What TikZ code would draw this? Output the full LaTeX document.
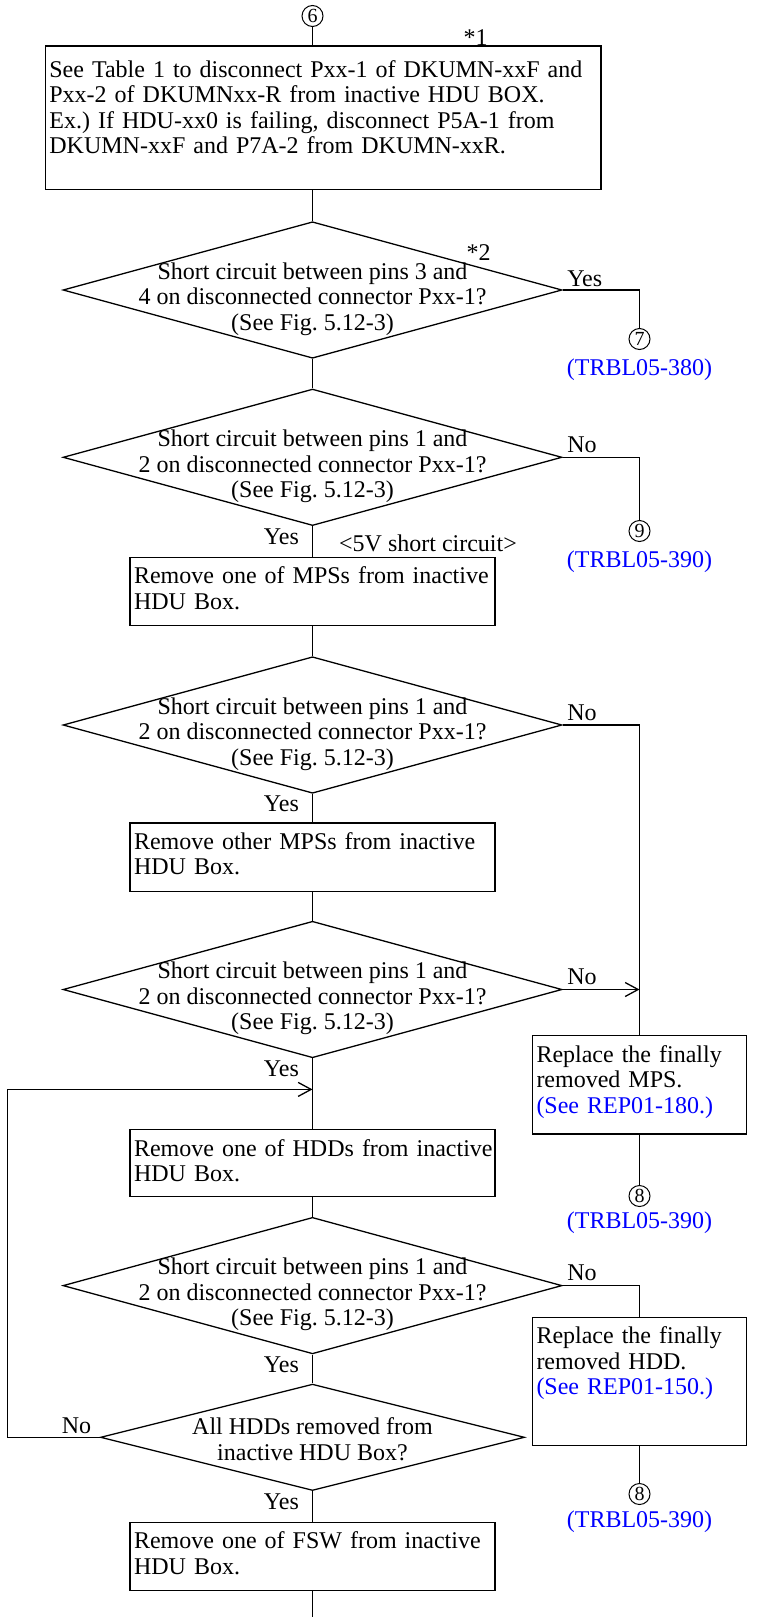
\documentclass[tikz,border=0pt]{standalone}
\usepackage{fontspec}
\setmainfont{Liberation Serif}
\usetikzlibrary{shapes.geometric,arrows.meta}
\frenchspacing
% box text: one line per row, never wrapped
\newcommand{\boxlines}[1]{\begin{tabular}[t]{@{}l@{}}#1\end{tabular}}

\begin{document}
\begin{tikzpicture}[x=1pt,y=-1pt,line width=1.3pt,
  font=\fontsize{24}{25.5}\selectfont,
  >={Straight Barb[length=13pt,width=14pt]},
  act/.style={draw,anchor=north,align=left,inner xsep=4pt,inner ysep=4pt,text height=22.5pt},
  decision/.style={draw,diamond,inner sep=0pt,minimum width=499pt,minimum height=136.5pt},
  qtext/.style={align=center,inner sep=0pt},
  offpage/.style={draw,circle,line width=1pt,minimum size=21pt,inner sep=0pt,font=\fontsize{20}{20}\selectfont},
  lbl/.style={inner sep=0pt},
  refnote/.style={blue,inner sep=0pt,anchor=base}]
\useasboundingbox (0,0) rectangle (766,1617);

% main column
\node[offpage] (c6) at (312.5,16) {6};
\node[act,text width=547.7pt,text height=27pt,text depth=108.3pt] (b1) at (323.25,45.4)
  {\boxlines{See Table 1 to disconnect Pxx-1 of DKUMN-xxF and\\
   Pxx-2 of DKUMNxx-R from inactive HDU BOX.\\
   Ex.) If HDU-xx0 is failing, disconnect P5A-1 from\\
   DKUMN-xxF and P7A-2 from DKUMN-xxR.}};
\node[decision] (d1) at (312.5,290) {};
\node[qtext] (t1) at ([yshift=-9pt]d1.center)
  {Short circuit between pins 3 and\\4 on disconnected connector Pxx-1?\\(See Fig. 5.12-3)};
\node[decision] (d2) at (312.5,457.3) {};
\node[qtext] (t2) at ([yshift=-9pt]d2.center)
  {Short circuit between pins 1 and\\2 on disconnected connector Pxx-1?\\(See Fig. 5.12-3)};
\node[act,text width=356.9pt,text depth=37.5pt] (b2) at (312.5,556.5)
  {\boxlines{Remove one of MPSs from inactive\\HDU Box.}};
\node[decision] (d3) at (312.5,725) {};
\node[qtext] (t3) at ([yshift=-9pt]d3.center)
  {Short circuit between pins 1 and\\2 on disconnected connector Pxx-1?\\(See Fig. 5.12-3)};
\node[act,text width=356.9pt,text depth=38.2pt] (b3) at (312.5,822.3)
  {\boxlines{Remove other MPSs from inactive\\HDU Box.}};
\node[decision] (d4) at (312.5,989.5) {};
\node[qtext] (t4) at ([yshift=-9pt]d4.center)
  {Short circuit between pins 1 and\\2 on disconnected connector Pxx-1?\\(See Fig. 5.12-3)};
\node[act,text width=356.9pt,text depth=36.5pt] (b4) at (312.5,1129)
  {\boxlines{Remove one of HDDs from inactive\\HDU Box.}};
\node[decision] (d5) at (312.5,1285.6) {};
\node[qtext] (t5) at ([yshift=-9pt]d5.center)
  {Short circuit between pins 1 and\\2 on disconnected connector Pxx-1?\\(See Fig. 5.12-3)};
\node[decision,minimum width=424pt,minimum height=106.4pt] (d6) at (312.5,1437.3) {};
\node[qtext] (t6) at ([yshift=-2pt]d6.center)
  {All HDDs removed from\\inactive HDU Box?};
\node[act,text width=356.9pt,text depth=37.8pt] (b5) at (312.5,1521.7)
  {\boxlines{Remove one of FSW from inactive\\HDU Box.}};
\coordinate (out) at (312.5,1617);

% right column
\node[offpage] (c7) at (639.5,339) {7};
\node[refnote] (r7) at ([yshift=-36pt]c7.center) {(TRBL05-380)};
\node[offpage] (c9) at (639.5,531) {9};
\node[refnote] (r9) at ([yshift=-36pt]c9.center) {(TRBL05-390)};
\node[act,text width=206pt,text depth=67.8pt] (rm) at (639.5,1035)
  {\boxlines{Replace the finally\\removed MPS.\\\textcolor{blue}{(See REP01-180.)}}};
\node[offpage] (c8a) at (639.5,1196) {8};
\node[refnote] (r8a) at ([yshift=-32pt]c8a.center) {(TRBL05-390)};
\node[act,text width=206pt,text depth=97.8pt] (rh) at (639.5,1316.7)
  {\boxlines{Replace the finally\\removed HDD.\\\textcolor{blue}{(See REP01-150.)}}};
\node[offpage] (c8b) at (639.5,1494) {8};
\node[refnote] (r8b) at ([yshift=-33pt]c8b.center) {(TRBL05-390)};

% notes and branch labels
\node[lbl,anchor=base] (n1) at ([xshift=163pt]b1.north -| c6) {*1};
\node[lbl,anchor=base] (n2) at ([xshift=166pt,yshift=30pt]d1.center) {*2};
\node[lbl,anchor=base west] (v5) at ([xshift=26pt,yshift=5pt]b2.north) {<5V short circuit>};
\node[lbl,anchor=base west] (yes1) at ([xshift=4pt,yshift=4pt]d1.east) {Yes};
\node[lbl,anchor=base west] (no2) at ([xshift=4pt,yshift=5pt]d2.east) {No};
\node[lbl,anchor=base west] (no3) at ([xshift=4pt,yshift=5pt]d3.east) {No};
\node[lbl,anchor=base west] (no4) at ([xshift=4pt,yshift=5pt]d4.east) {No};
\node[lbl,anchor=base west] (no5) at ([xshift=4pt,yshift=5pt]d5.east) {No};
\node[lbl,anchor=base east] (no6) at ([xshift=-8pt,yshift=4pt]d6.west) {No};
\node[lbl,anchor=base east] (yes2) at ([xshift=-13pt,yshift=-18pt]d2.south) {Yes};
\node[lbl,anchor=base east] (yes3) at ([xshift=-13pt,yshift=-18pt]d3.south) {Yes};
\node[lbl,anchor=base east] (yes4) at ([xshift=-13pt,yshift=-18pt]d4.south) {Yes};
\node[lbl,anchor=base east] (yes5) at ([xshift=-13pt,yshift=-18pt]d5.south) {Yes};
\node[lbl,anchor=base east] (yes6) at ([xshift=-13pt,yshift=-18pt]d6.south) {Yes};

% connectors
\draw (c6) -- (c6 |- b1.north);
\draw (d1 |- b1.south) -- (d1);
\draw (d1) -- (d2);
\draw (d2) -- (b2);
\draw (b2) -- (d3);
\draw (d3) -- (b3);
\draw (b3) -- (d4);
\draw (d4) -- (b4);
\draw (b4) -- (d5);
\draw (d5) -- (d6);
\draw (d6) -- (b5);
\draw (b5) -- (out);
\draw (d1.east) -| (c7);
\draw (d2.east) -| (c9);
\draw (d3.east) -| (rm);
\draw[->] (d4.east) -- (d4.east -| rm.north);
\draw (rm) -- (c8a);
\draw (d5.east) -| (rh);
\draw (rh) -- (c8b);
\coordinate (back) at ([yshift=-31pt]d4.south);
\draw[->] (d6.west) -- ++(-92.2pt,0) |- (back);
\end{tikzpicture}
\end{document}
